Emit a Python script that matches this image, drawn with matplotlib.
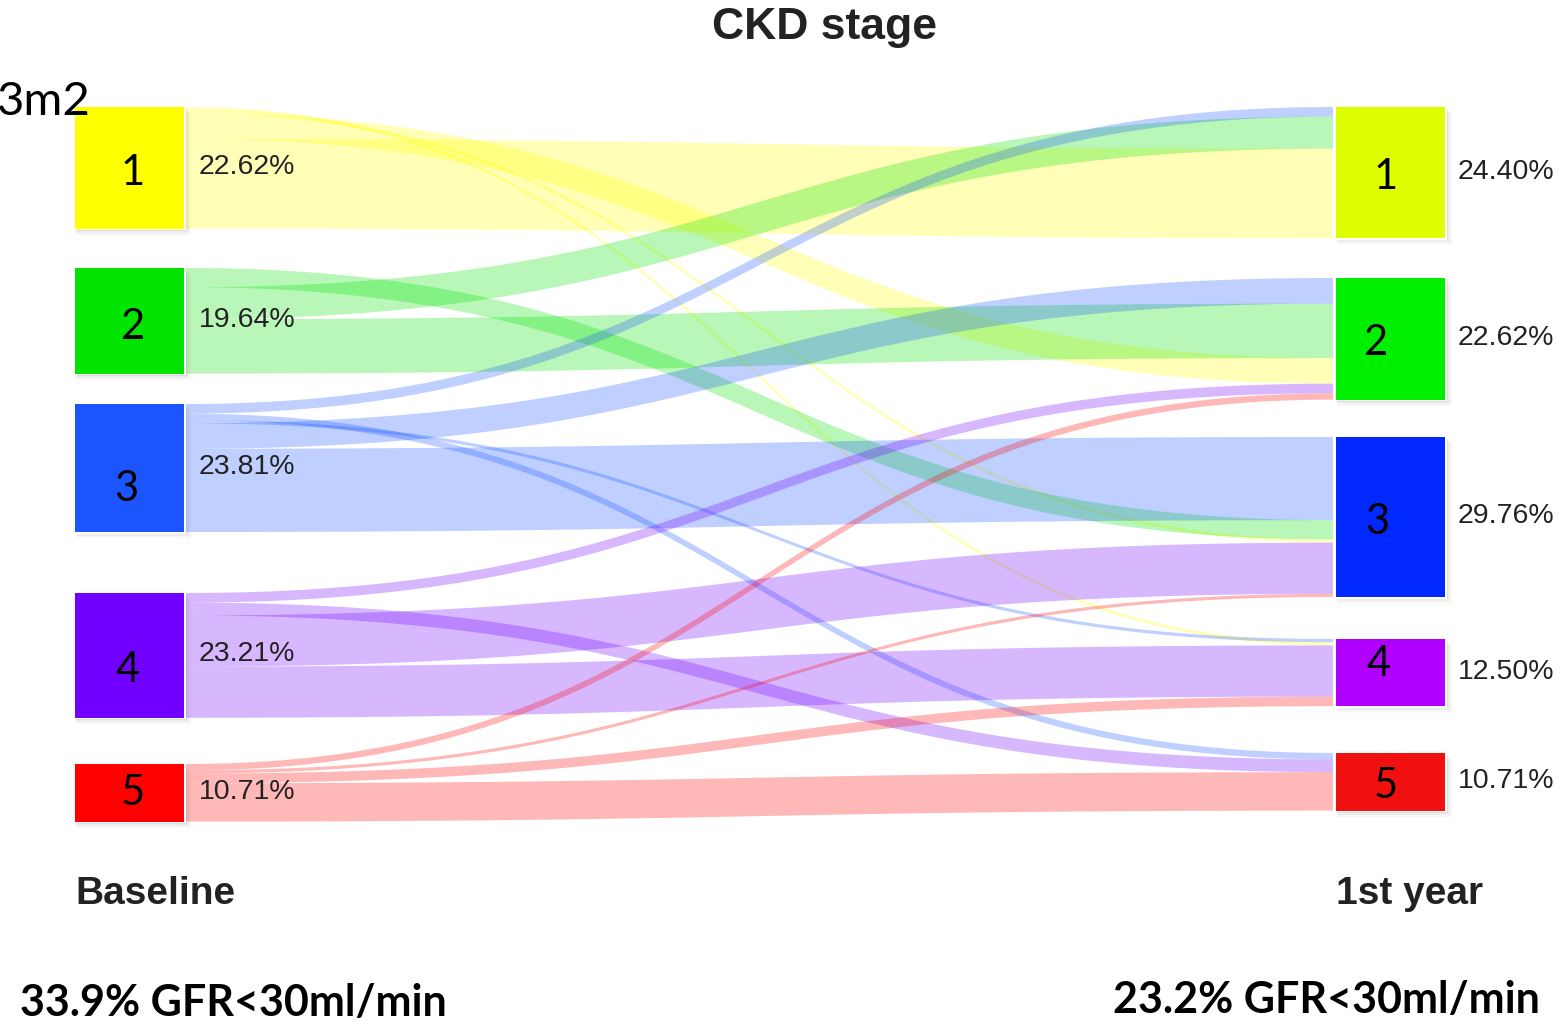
import numpy as np
import matplotlib
matplotlib.use("Agg")
import matplotlib.pyplot as plt
from matplotlib.patches import Rectangle, Polygon

# ---- data ---------------------------------------------------------------
stages = ["1", "2", "3", "4", "5"]
baseline_pct = ["22.62%", "19.64%", "23.81%", "23.21%", "10.71%"]
year1_pct = ["24.40%", "22.62%", "29.76%", "12.50%", "10.71%"]
# patient counts, rows = baseline stage, cols = stage after 1st year (n=168)
flows = [
    [28, 8, 1, 1, 0],
    [10, 17, 6, 0, 0],
    [3, 8, 26, 1, 2],
    [0, 3, 16, 16, 4],
    [0, 2, 1, 3, 12],
]
left_note = "33.9% GFR<30ml/min"
right_note = "23.2% GFR<30ml/min"

# ---- layout / style -----------------------------------------------------
W, H = 1563, 1027
scale = 3.2                       # px per patient
left_top = [107, 268, 404, 593, 764]
right_top = [107, 278, 437, 639, 753]
lx0, lx1 = 75, 184
rx0, rx1 = 1336, 1445
left_colors = ["#ffff00", "#00e400", "#1a55ff", "#7000ff", "#ff0000"]
right_colors = ["#ddff00", "#00ee00", "#0028ff", "#b000ff", "#f01010"]
# order in which links leave a source / enter a target (top to bottom)
src_order = [[3, 2, 1, 0], [2, 0, 1], [0, 4, 3, 1, 2], [1, 4, 2, 3], [1, 2, 3, 4]]
tgt_order = [[2, 1, 0], [2, 1, 0, 3, 4], [2, 1, 0, 3, 4], [2, 0, 3, 4], [2, 3, 4]]
left_num_xy = [(133, 173), (133, 327), (126, 489), (128, 670), (133, 793)]
right_num_xy = [(1386, 177), (1376, 343), (1377, 522), (1379, 664), (1386, 786)]

F = np.array(flows)
out_tot = F.sum(axis=1)
in_tot = F.sum(axis=0)

fig = plt.figure(figsize=(W / 100, H / 100), dpi=100)
ax = fig.add_axes([0, 0, 1, 1])
ax.set_xlim(0, W)
ax.set_ylim(H, 0)
ax.axis("off")

# link offsets
src_y = {}
for i, order in enumerate(src_order):
    y = left_top[i]
    for j in order:
        src_y[(i, j)] = y
        y += F[i, j] * scale
tgt_y = {}
for j, order in enumerate(tgt_order):
    y = right_top[j]
    for i in order:
        tgt_y[(i, j)] = y
        y += F[i, j] * scale

t = np.linspace(0, 1, 80)
xa, xb = lx1 + 2, rx0 - 3
xm = (xa + xb) / 2
bx = (1 - t) ** 3 * xa + 3 * (1 - t) ** 2 * t * xm + 3 * (1 - t) * t ** 2 * xm + t ** 3 * xb


def bez_y(y0, y1):
    return (1 - t) ** 3 * y0 + 3 * (1 - t) ** 2 * t * y0 + 3 * (1 - t) * t ** 2 * y1 + t ** 3 * y1


for i in range(5):
    for j in range(5):
        v = F[i, j]
        if v == 0:
            continue
        w = v * scale
        y0, y1 = src_y[(i, j)], tgt_y[(i, j)]
        top = bez_y(y0, y1)
        bot = bez_y(y0 + w, y1 + w)
        pts = np.vstack([np.column_stack([bx, top]), np.column_stack([bx[::-1], bot[::-1]])])
        ax.add_patch(Polygon(pts, closed=True, facecolor=left_colors[i], alpha=0.28,
                             edgecolor="none", zorder=1))


def node(x0, x1, y0, h, color):
    for k, a in zip([7, 5, 3], [0.06, 0.08, 0.12]):
        ax.add_patch(Rectangle((x0 + 1, y0 + k - 1), x1 - x0 + k - 1, h, facecolor="#808080",
                               alpha=a, edgecolor="none", zorder=2))
    ax.add_patch(Rectangle((x0 - 1.5, y0 - 1.5), x1 - x0 + 3, h + 3, facecolor="white",
                           edgecolor="none", zorder=3))
    ax.add_patch(Rectangle((x0, y0), x1 - x0, h, facecolor=color, edgecolor="none", zorder=4))


num_font = dict(family=["Lato", "DejaVu Sans"], fontsize=30, color="black", zorder=5,
                ha="center", va="center")
pct_font = dict(family=["Liberation Sans", "DejaVu Sans"], fontsize=20.5, color="#222222",
                va="center", ha="left", zorder=5)

for i in range(5):
    h = out_tot[i] * scale
    node(lx0, lx1, left_top[i], h, left_colors[i])
    ax.text(*left_num_xy[i], stages[i], **num_font)
    ax.text(199, left_top[i] + h / 2 - 1, baseline_pct[i], **pct_font)
for j in range(5):
    h = in_tot[j] * scale
    node(rx0, rx1, right_top[j], h, right_colors[j])
    ax.text(*right_num_xy[j], stages[j], **num_font)
    ax.text(1458, right_top[j] + h / 2 - 1, year1_pct[j], **pct_font)

bold_arial = dict(family=["Liberation Sans", "DejaVu Sans"], fontweight="bold", color="#222222")
ax.text(824, 27, "CKD stage", fontsize=32, ha="center", va="center", **bold_arial)
ax.text(75, 894, "Baseline", fontsize=28, ha="left", va="center", **bold_arial)
ax.text(1336, 894, "1st year", fontsize=28, ha="left", va="center", **bold_arial)

ax.text(91, 102, "3m2", family=["Lato", "DejaVu Sans"], fontsize=34, ha="right", va="center",
        color="black", zorder=6)
note_font = dict(family=["Lato", "DejaVu Sans"], fontweight="bold", fontsize=31, color="black",
                 va="center")
ax.text(20, 1003, left_note, ha="left", **note_font)
ax.text(1540, 1000, right_note, ha="right", **note_font)

fig.savefig("out.png", dpi=100)
